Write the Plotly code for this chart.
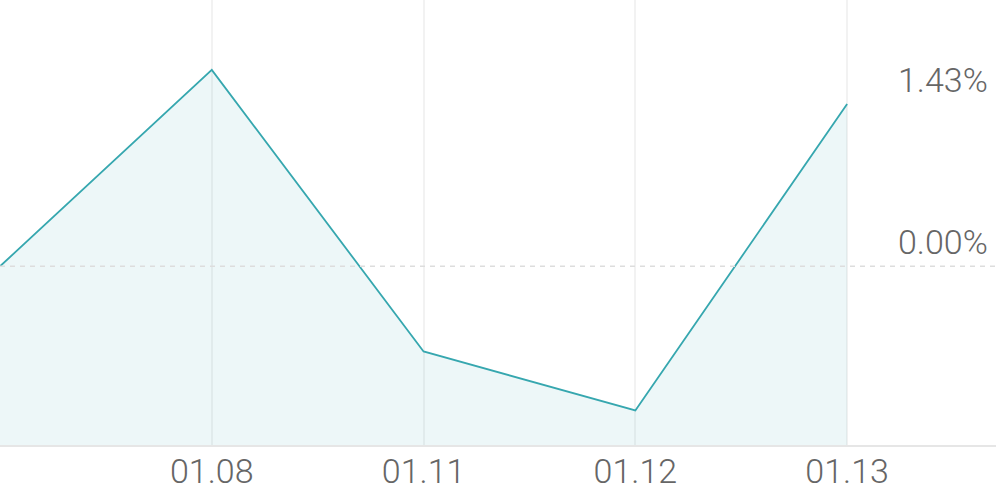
import plotly.graph_objects as go

categories = ["", "01.08", "01.11", "01.12", "01.13"]
values = [0.0, 1.73, -0.75, -1.27, 1.43]
level_labels = ["1.43%", "0.00%"]
level_values = [1.43, 0.0]

x_idx = list(range(len(categories)))
y_min, y_max = -1.574, 2.346

line_color = "#36a7af"
fill_color = "rgba(56,168,176,0.09)"
text_color = "#666666"
font_family = "Roboto"

fig = go.Figure()
# baseline for fill down to plot bottom
fig.add_trace(go.Scatter(x=x_idx, y=[y_min] * len(x_idx), mode="lines",
                         line=dict(width=0, color="rgba(0,0,0,0)"),
                         hoverinfo="skip", showlegend=False))
fig.add_trace(go.Scatter(x=x_idx, y=values, mode="lines", fill="tonexty",
                         fillcolor=fill_color,
                         line=dict(color=line_color, width=1.8),
                         showlegend=False))

fig.add_shape(type="line", xref="paper", yref="y", x0=0, x1=1, y0=0, y1=0,
              line=dict(color="#dddddd", width=1.5, dash="5px,5px"))

for lbl, v in zip(level_labels, level_values):
    fig.add_annotation(text=lbl, xref="paper", yref="y", x=0.994, y=v,
                       xanchor="right", yanchor="bottom", showarrow=False,
                       yshift=2,
                       font=dict(family=font_family, size=34, color=text_color, weight=300))

fig.update_xaxes(range=[0, 4.703], tickvals=x_idx[1:], ticktext=categories[1:],
                 showgrid=True, gridcolor="#f2f2f2", gridwidth=2,
                 zeroline=False, showline=True, linecolor="#e6e6e6", linewidth=2,
                 ticks="", ticklabelstandoff=-5, automargin=False,
                 tickfont=dict(family=font_family, size=34, color=text_color, weight=300))
fig.update_yaxes(range=[y_min, y_max], showgrid=False, zeroline=False,
                 showticklabels=False, showline=False, automargin=False)

fig.update_layout(width=996, height=490, margin=dict(l=0, r=0, t=0, b=45),
                  plot_bgcolor="white", paper_bgcolor="white")

fig.write_html("out.html", config={"displayModeBar": False},
               post_script="document.body.style.margin='0';document.body.style.overflow='hidden';")
